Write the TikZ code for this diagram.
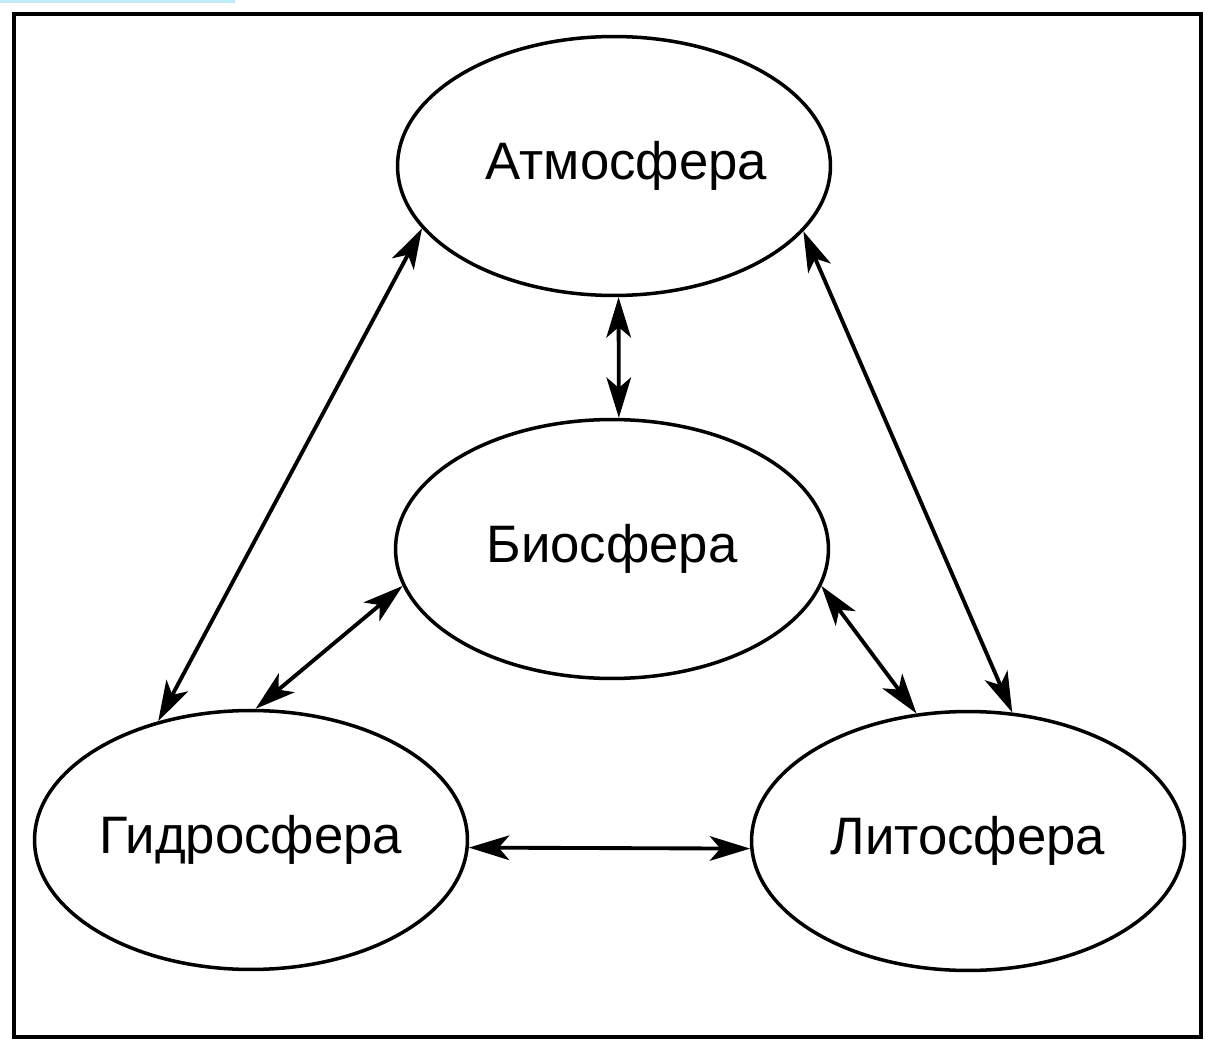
\documentclass[tikz,border=0pt]{standalone}
\usepackage{fontspec}
\setmainfont{Liberation Sans}
\usetikzlibrary{shapes.geometric,arrows.meta}

\begin{document}
\begin{tikzpicture}[x=0.02cm,y=-0.02cm,
		>={Stealth[length=23pt,width=14pt,inset=6pt]},
		sphere/.style={ellipse,draw,line width=2pt,minimum width=8.66cm,
			minimum height=5.18cm,inner sep=0pt,font=\fontsize{30}{36}\selectfont},
		link/.style={line width=2.2pt,<->}]
		
		% we fix the size of the picture and draw the frame
		\useasboundingbox (0,0) rectangle (1205,1040);
		\fill[cyan!25] (0,0) rectangle (235,3);
		\draw[line width=2.6pt] (14,14) rectangle (1201,1037);
		
		% we place the four spheres
		\node[sphere] (atmo) at (614,166) {\hspace{14pt}Атмосфера};
		\node[sphere] (bio) at (612,549) {Биосфера};
		\node[sphere] (hydro) at (251,840) {Гидросфера};
		\node[sphere] (litho) at (968,841) {Литосфера};
		
		% we draw the double arrows between them
		\draw[link] (atmo.272) -- (bio.87);
		\draw[link] (atmo.198) -- (hydro.128);
		\draw[link] (atmo.341) -- (litho.71);
		\draw[link] (hydro.88) -- (bio.190);
		\draw[link] (bio.350) -- (litho.112);
		\draw[link] (hydro.-2) -- (litho.182);
	\end{tikzpicture}
\end{document}
